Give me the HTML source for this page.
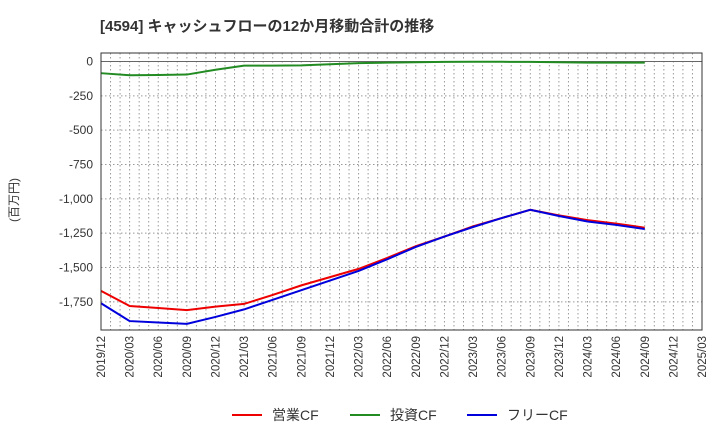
<!DOCTYPE html>
<html><head><meta charset="utf-8"><style>
body{margin:0;background:#fff;font-family:"Liberation Sans","Noto Sans CJK JP",sans-serif}
svg text{font-family:"Liberation Sans","Noto Sans CJK JP",sans-serif}
</style></head><body>
<svg id="c" width="720" height="440" xmlns="http://www.w3.org/2000/svg">
<text x="100" y="31" font-size="15" font-weight="bold" fill="#333">[4594]  キャッシュフローの12か月移動合計の推移</text>
<text transform="translate(18,200) rotate(-90)" font-size="12" fill="#333" text-anchor="middle">(百万円)</text>
<g id="grid"></g><g id="series"></g><g id="axes"></g>
<g>
<line x1="232" y1="415" x2="262" y2="415" stroke="#e00" stroke-width="2"/><text x="272" y="420" font-size="14" fill="#333">営業CF</text>
<line x1="350" y1="415" x2="380" y2="415" stroke="#228b22" stroke-width="2"/><text x="390" y="420" font-size="14" fill="#333">投資CF</text>
<line x1="467" y1="415" x2="497" y2="415" stroke="#00d" stroke-width="2"/><text x="507" y="420" font-size="14" fill="#333">フリーCF</text>
</g>
</svg>
<script>
const xLabels=["2019/12","2020/03","2020/06","2020/09","2020/12","2021/03","2021/06","2021/09","2021/12","2022/03","2022/06","2022/09","2022/12","2023/03","2023/06","2023/09","2023/12","2024/03","2024/06","2024/09","2024/12","2025/03"];
const yTicks=[0,-250,-500,-750,-1000,-1250,-1500,-1750];
const operatingCF=[-1670,-1780,-1795,-1810,-1785,-1765,-1700,-1630,-1570,-1510,-1430,-1345,-1275,-1200,-1140,-1080,-1120,-1155,-1180,-1210];
const investingCF=[-85,-100,-98,-95,-60,-30,-30,-28,-20,-12,-8,-5,-3,-2,-2,-3,-5,-8,-8,-8];
const freeCF=[-1760,-1890,-1900,-1910,-1860,-1805,-1735,-1665,-1595,-1525,-1440,-1350,-1275,-1205,-1140,-1080,-1125,-1165,-1190,-1220];
const L=101,R=702,T=53,B=330,ymax=62,ymin=-1955;
const NS="http://www.w3.org/2000/svg";
const xq=i=>L+(R-L)*i/(xLabels.length-1);
const y=v=>T+(ymax-v)/(ymax-ymin)*(B-T);
function mk(t,a,p){const e=document.createElementNS(NS,t);for(const k in a)e.setAttribute(k,a[k]);p.appendChild(e);return e;}
const g=document.getElementById('grid'),ax=document.getElementById('axes'),s=document.getElementById('series');
const nm=(xLabels.length-1)*3;
for(let m=1;m<nm;m++){const x=L+(R-L)*m/nm;const l=mk('line',{x1:x,x2:x,y1:T,y2:B,stroke:'#999','stroke-dasharray':'1.5,2.5','stroke-width':1},g);

}
yTicks.forEach(v=>{const l=mk('line',{x1:L,x2:R,y1:y(v),y2:y(v),stroke:v===0?'#666':'#999','stroke-dasharray':v===0?'none':'1.5,2.5','stroke-width':1},g);


const t=mk('text',{x:L-8,y:y(v)+4,'text-anchor':'end','font-size':12,fill:'#333'},ax);t.textContent=v.toLocaleString('en-US');

});
xLabels.forEach((lb,i)=>{const t=mk('text',{transform:`translate(${xq(i)+4},${B+6}) rotate(-90)`,'text-anchor':'end','font-size':11.5,fill:'#333'},ax);t.textContent=lb;

});
const fr=mk('rect',{x:L,y:T,width:R-L,height:B-T,fill:'none',stroke:'#333','stroke-width':1},ax);


[[investingCF,'#228b22','investing-cf-line'],[operatingCF,'#e00','operating-cf-line'],[freeCF,'#00d','free-cf-line']].forEach(([d,c,n])=>{
const p=mk('polyline',{points:d.map((v,i)=>xq(i)+','+y(v)).join(' '),fill:'none',stroke:c,'stroke-width':2},s);

});
</script>
</body></html>
